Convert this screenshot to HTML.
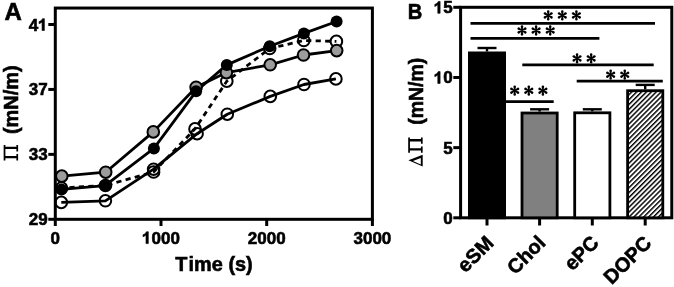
<!DOCTYPE html>
<html><head><meta charset="utf-8"><style>
html,body{margin:0;padding:0;background:#fff;width:674px;height:287px;overflow:hidden}
svg{display:block;filter:grayscale(1)}
</style></head><body><svg width="674" height="287" viewBox="0 0 674 287"><rect x="55.3" y="8.05" width="317.09999999999997" height="211.25" fill="none" stroke="#000" stroke-width="3.0"/><line x1="48.3" y1="219.30" x2="55.3" y2="219.30" stroke="#000" stroke-width="3.0"/><text x="28.69" y="225.30" style="font-family:'Liberation Sans',sans-serif;font-weight:bold;stroke:#000;stroke-width:0.6px;font-size:17px">2</text><text x="38.15" y="225.30" style="font-family:'Liberation Sans',sans-serif;font-weight:bold;stroke:#000;stroke-width:0.6px;font-size:17px">9</text><line x1="48.3" y1="154.37" x2="55.3" y2="154.37" stroke="#000" stroke-width="3.0"/><text x="28.69" y="160.37" style="font-family:'Liberation Sans',sans-serif;font-weight:bold;stroke:#000;stroke-width:0.6px;font-size:17px">3</text><text x="38.15" y="160.37" style="font-family:'Liberation Sans',sans-serif;font-weight:bold;stroke:#000;stroke-width:0.6px;font-size:17px">3</text><line x1="48.3" y1="89.43" x2="55.3" y2="89.43" stroke="#000" stroke-width="3.0"/><text x="28.69" y="95.43" style="font-family:'Liberation Sans',sans-serif;font-weight:bold;stroke:#000;stroke-width:0.6px;font-size:17px">3</text><text x="38.15" y="95.43" style="font-family:'Liberation Sans',sans-serif;font-weight:bold;stroke:#000;stroke-width:0.6px;font-size:17px">7</text><line x1="48.3" y1="24.50" x2="55.3" y2="24.50" stroke="#000" stroke-width="3.0"/><text x="28.69" y="30.50" style="font-family:'Liberation Sans',sans-serif;font-weight:bold;stroke:#000;stroke-width:0.6px;font-size:17px">4</text><path transform="translate(38.15,30.50) scale(0.00830,-0.00830)" d="M750,0H470V1030Q317,887 110,818V1070Q220,1106 350,1200Q480,1300 528,1430H750Z" fill="#000" stroke="#000" stroke-width="72.3" stroke-linejoin="round"/><line x1="55.30" y1="219.3" x2="55.30" y2="226" stroke="#000" stroke-width="3.0"/><text x="50.57" y="243.60" style="font-family:'Liberation Sans',sans-serif;font-weight:bold;stroke:#000;stroke-width:0.6px;font-size:17px">0</text><line x1="161.00" y1="219.3" x2="161.00" y2="226" stroke="#000" stroke-width="3.0"/><path transform="translate(142.09,243.60) scale(0.00830,-0.00830)" d="M750,0H470V1030Q317,887 110,818V1070Q220,1106 350,1200Q480,1300 528,1430H750Z" fill="#000" stroke="#000" stroke-width="72.3" stroke-linejoin="round"/><text x="151.55" y="243.60" style="font-family:'Liberation Sans',sans-serif;font-weight:bold;stroke:#000;stroke-width:0.6px;font-size:17px">0</text><text x="161.00" y="243.60" style="font-family:'Liberation Sans',sans-serif;font-weight:bold;stroke:#000;stroke-width:0.6px;font-size:17px">0</text><text x="170.45" y="243.60" style="font-family:'Liberation Sans',sans-serif;font-weight:bold;stroke:#000;stroke-width:0.6px;font-size:17px">0</text><line x1="266.70" y1="219.3" x2="266.70" y2="226" stroke="#000" stroke-width="3.0"/><text x="247.79" y="243.60" style="font-family:'Liberation Sans',sans-serif;font-weight:bold;stroke:#000;stroke-width:0.6px;font-size:17px">2</text><text x="257.25" y="243.60" style="font-family:'Liberation Sans',sans-serif;font-weight:bold;stroke:#000;stroke-width:0.6px;font-size:17px">0</text><text x="266.70" y="243.60" style="font-family:'Liberation Sans',sans-serif;font-weight:bold;stroke:#000;stroke-width:0.6px;font-size:17px">0</text><text x="276.15" y="243.60" style="font-family:'Liberation Sans',sans-serif;font-weight:bold;stroke:#000;stroke-width:0.6px;font-size:17px">0</text><line x1="372.40" y1="219.3" x2="372.40" y2="226" stroke="#000" stroke-width="3.0"/><text x="353.49" y="243.60" style="font-family:'Liberation Sans',sans-serif;font-weight:bold;stroke:#000;stroke-width:0.6px;font-size:17px">3</text><text x="362.95" y="243.60" style="font-family:'Liberation Sans',sans-serif;font-weight:bold;stroke:#000;stroke-width:0.6px;font-size:17px">0</text><text x="372.40" y="243.60" style="font-family:'Liberation Sans',sans-serif;font-weight:bold;stroke:#000;stroke-width:0.6px;font-size:17px">0</text><text x="381.85" y="243.60" style="font-family:'Liberation Sans',sans-serif;font-weight:bold;stroke:#000;stroke-width:0.6px;font-size:17px">0</text><text x="175.2" y="271.3" style="font-family:'Liberation Sans',sans-serif;font-weight:bold;stroke:#000;stroke-width:0.6px;font-size:19.9px">T</text><text x="188.6" y="271.3" style="font-family:'Liberation Sans',sans-serif;font-weight:bold;stroke:#000;stroke-width:0.6px;font-size:19.9px">ime (s)</text><text x="4.6" y="19.6" style="font-family:'Liberation Sans',sans-serif;font-weight:bold;stroke:#000;stroke-width:0.6px;font-size:24px">A</text><text transform="translate(17.5,134) rotate(-90)" style="font-family:'Liberation Sans',sans-serif;font-weight:bold;stroke:#000;stroke-width:0.6px;font-size:19.9px">(mN/m)</text><path d="M3.65,145.10h1.75v15.3h-1.75zM5.30,146.80h11.3v2.3h-11.3zM5.30,155.90h11.3v2.4h-11.3zM16.40,145.10h1.7v6.3h-1.7zM16.40,154.10h1.7v6.3h-1.7z" fill="#000"/><polyline points="61.3,202.4 105.4,200.8 153.6,169.2 197.1,133.7 227.3,114.2 270.3,96.4 304.0,84.5 335.9,78.9" fill="none" stroke="#000" stroke-width="2.8" stroke-linejoin="round" /><polyline points="61.8,176.1 105.7,172.2 153.3,131.9 196.1,87.2 226.4,72.6 270.2,64.8 303.5,55.0 336.7,50.6" fill="none" stroke="#000" stroke-width="2.8" stroke-linejoin="round" /><polyline points="61.5,189.4 105.0,185.6 153.9,148.4 196.1,91.3 226.8,64.9 269.7,46.2 303.9,33.4 336.6,21.5" fill="none" stroke="#000" stroke-width="2.8" stroke-linejoin="round" /><polyline points="61.5,188.0 105.5,185.5 153.6,172.0 195.0,128.9 226.8,81.2 269.7,48.5 303.8,40.5 336.4,41.4" fill="none" stroke="#000" stroke-width="2.8" stroke-linejoin="round" stroke-dasharray="5.2 4.3" stroke-dashoffset="1.57" stroke-linecap="butt"/><circle cx="61.3" cy="202.4" r="5.8" fill="none" stroke="#000" stroke-width="2.0"/><circle cx="105.4" cy="200.8" r="5.8" fill="none" stroke="#000" stroke-width="2.0"/><circle cx="153.6" cy="169.2" r="5.8" fill="none" stroke="#000" stroke-width="2.0"/><circle cx="197.1" cy="133.7" r="5.8" fill="none" stroke="#000" stroke-width="2.0"/><circle cx="227.3" cy="114.2" r="5.8" fill="none" stroke="#000" stroke-width="2.0"/><circle cx="270.3" cy="96.4" r="5.8" fill="none" stroke="#000" stroke-width="2.0"/><circle cx="304.0" cy="84.5" r="5.8" fill="none" stroke="#000" stroke-width="2.0"/><circle cx="335.9" cy="78.9" r="5.8" fill="none" stroke="#000" stroke-width="2.0"/><circle cx="61.5" cy="188.0" r="5.8" fill="none" stroke="#000" stroke-width="2.0"/><circle cx="105.5" cy="185.5" r="5.8" fill="none" stroke="#000" stroke-width="2.0"/><circle cx="153.6" cy="172.0" r="5.8" fill="none" stroke="#000" stroke-width="2.0"/><circle cx="195.0" cy="128.9" r="5.8" fill="none" stroke="#000" stroke-width="2.0"/><circle cx="226.8" cy="81.2" r="5.8" fill="none" stroke="#000" stroke-width="2.0"/><circle cx="269.7" cy="48.5" r="5.8" fill="none" stroke="#000" stroke-width="2.0"/><circle cx="303.8" cy="40.5" r="5.8" fill="none" stroke="#000" stroke-width="2.0"/><circle cx="336.4" cy="41.4" r="5.8" fill="none" stroke="#000" stroke-width="2.0"/><circle cx="61.8" cy="176.1" r="5.8" fill="#9c9c9c" stroke="#000" stroke-width="2.0"/><circle cx="105.7" cy="172.2" r="5.8" fill="#9c9c9c" stroke="#000" stroke-width="2.0"/><circle cx="153.3" cy="131.9" r="5.8" fill="#9c9c9c" stroke="#000" stroke-width="2.0"/><circle cx="196.1" cy="87.2" r="5.8" fill="#9c9c9c" stroke="#000" stroke-width="2.0"/><circle cx="226.4" cy="72.6" r="5.8" fill="#9c9c9c" stroke="#000" stroke-width="2.0"/><circle cx="270.2" cy="64.8" r="5.8" fill="#9c9c9c" stroke="#000" stroke-width="2.0"/><circle cx="303.5" cy="55.0" r="5.8" fill="#9c9c9c" stroke="#000" stroke-width="2.0"/><circle cx="336.7" cy="50.6" r="5.8" fill="#9c9c9c" stroke="#000" stroke-width="2.0"/><circle cx="61.5" cy="189.4" r="6.0" fill="#000"/><circle cx="105.0" cy="185.6" r="6.0" fill="#000"/><circle cx="153.9" cy="148.4" r="6.0" fill="#000"/><circle cx="196.1" cy="91.3" r="6.0" fill="#000"/><circle cx="226.8" cy="64.9" r="6.0" fill="#000"/><circle cx="269.7" cy="46.2" r="6.0" fill="#000"/><circle cx="303.9" cy="33.4" r="6.0" fill="#000"/><circle cx="336.6" cy="21.5" r="6.0" fill="#000"/><rect x="460.6" y="7.3" width="211.19999999999993" height="210.5" fill="none" stroke="#000" stroke-width="3.0"/><line x1="453.3" y1="217.80" x2="460.6" y2="217.80" stroke="#000" stroke-width="3.0"/><text x="443.35" y="223.80" style="font-family:'Liberation Sans',sans-serif;font-weight:bold;stroke:#000;stroke-width:0.6px;font-size:17px">0</text><line x1="453.3" y1="147.63" x2="460.6" y2="147.63" stroke="#000" stroke-width="3.0"/><text x="443.35" y="153.63" style="font-family:'Liberation Sans',sans-serif;font-weight:bold;stroke:#000;stroke-width:0.6px;font-size:17px">5</text><line x1="453.3" y1="77.47" x2="460.6" y2="77.47" stroke="#000" stroke-width="3.0"/><path transform="translate(433.89,83.47) scale(0.00830,-0.00830)" d="M750,0H470V1030Q317,887 110,818V1070Q220,1106 350,1200Q480,1300 528,1430H750Z" fill="#000" stroke="#000" stroke-width="72.3" stroke-linejoin="round"/><text x="443.35" y="83.47" style="font-family:'Liberation Sans',sans-serif;font-weight:bold;stroke:#000;stroke-width:0.6px;font-size:17px">0</text><line x1="453.3" y1="7.30" x2="460.6" y2="7.30" stroke="#000" stroke-width="3.0"/><path transform="translate(433.89,13.30) scale(0.00830,-0.00830)" d="M750,0H470V1030Q317,887 110,818V1070Q220,1106 350,1200Q480,1300 528,1430H750Z" fill="#000" stroke="#000" stroke-width="72.3" stroke-linejoin="round"/><text x="443.35" y="13.30" style="font-family:'Liberation Sans',sans-serif;font-weight:bold;stroke:#000;stroke-width:0.6px;font-size:17px">5</text><text transform="translate(407.8,19.2) scale(0.89,1)" style="font-family:'Liberation Sans',sans-serif;font-weight:bold;stroke:#000;stroke-width:0.6px;font-size:22.6px">B</text><text transform="translate(422.9,124.8) rotate(-90)" style="font-family:'Liberation Sans',sans-serif;font-weight:bold;stroke:#000;stroke-width:0.6px;font-size:19.45px">(mN/m)</text><path d="M408.20,137.40h1.75v15.3h-1.75zM409.85,139.10h11.3v2.3h-11.3zM409.85,148.20h11.3v2.4h-11.3zM420.95,137.40h1.7v6.3h-1.7zM420.95,146.40h1.7v6.3h-1.7z" fill="#000"/><path d="M408.4,160.3L422.7,154.7L422.7,166.6ZM412.94,161.10L420.8,164.56L420.8,158.02Z" fill="#000" fill-rule="evenodd"/><defs><pattern id="hatch" patternUnits="userSpaceOnUse" x="2.35" y="0" width="3.46" height="3.46" patternTransform="rotate(45)"><rect width="3.46" height="3.46" fill="#fff"/><rect x="0" y="0" width="1.45" height="3.46" fill="#000"/></pattern></defs><line x1="487.0" y1="48.0" x2="487.0" y2="51.5" stroke="#000" stroke-width="2.4"/><line x1="477.5" y1="48.0" x2="496.5" y2="48.0" stroke="#000" stroke-width="2.4"/><rect x="469.4" y="52.9" width="35.2" height="164.9" fill="#000" stroke="#000" stroke-width="2.8"/><line x1="487.0" y1="217.8" x2="487.0" y2="225.5" stroke="#000" stroke-width="3.0"/><line x1="539.6" y1="109.3" x2="539.6" y2="111.6" stroke="#000" stroke-width="2.4"/><line x1="530.1" y1="109.3" x2="549.1" y2="109.3" stroke="#000" stroke-width="2.4"/><rect x="522.0" y="113.0" width="35.2" height="104.80000000000001" fill="#808080" stroke="#000" stroke-width="2.8"/><line x1="539.6" y1="217.8" x2="539.6" y2="225.5" stroke="#000" stroke-width="3.0"/><line x1="592.3" y1="109.3" x2="592.3" y2="111.4" stroke="#000" stroke-width="2.4"/><line x1="582.8" y1="109.3" x2="601.8" y2="109.3" stroke="#000" stroke-width="2.4"/><rect x="574.6999999999999" y="112.80000000000001" width="35.2" height="105.0" fill="#fff" stroke="#000" stroke-width="2.8"/><line x1="592.3" y1="217.8" x2="592.3" y2="225.5" stroke="#000" stroke-width="3.0"/><line x1="645.2" y1="84.9" x2="645.2" y2="89.3" stroke="#000" stroke-width="2.4"/><line x1="635.7" y1="84.9" x2="654.7" y2="84.9" stroke="#000" stroke-width="2.4"/><rect x="627.6" y="90.7" width="35.2" height="127.1" fill="url(#hatch)" stroke="#000" stroke-width="2.8"/><line x1="645.2" y1="217.8" x2="645.2" y2="225.5" stroke="#000" stroke-width="3.0"/><text transform="translate(494.7,244.3) rotate(-45)" text-anchor="end" style="font-family:'Liberation Sans',sans-serif;font-weight:bold;stroke:#000;stroke-width:0.6px;font-size:20px">eSM</text><text transform="translate(546.6,244.0) rotate(-45)" text-anchor="end" style="font-family:'Liberation Sans',sans-serif;font-weight:bold;stroke:#000;stroke-width:0.6px;font-size:20px">Chol</text><text transform="translate(600.0,244.0) rotate(-45)" text-anchor="end" style="font-family:'Liberation Sans',sans-serif;font-weight:bold;stroke:#000;stroke-width:0.6px;font-size:20px">ePC</text><text transform="translate(652.7,244.3) rotate(-45)" text-anchor="end" style="font-family:'Liberation Sans',sans-serif;font-weight:bold;stroke:#000;stroke-width:0.6px;font-size:20px">DOPC</text><line x1="470.5" y1="23.3" x2="655.0" y2="23.3" stroke="#000" stroke-width="2.8"/><path d="M548.65,15.40L549.50,11.55A1.3,1.3 0 0 0 546.90,11.55L547.75,15.40ZM548.42,15.79L552.18,14.60A1.3,1.3 0 0 0 550.88,12.35L547.97,15.01ZM547.97,15.79L550.88,18.45A1.3,1.3 0 0 0 552.18,16.20L548.42,15.01ZM547.75,15.40L546.90,19.25A1.3,1.3 0 0 0 549.50,19.25L548.65,15.40ZM548.42,15.01L545.52,12.35A1.3,1.3 0 0 0 544.22,14.60L547.97,15.79ZM547.97,15.01L544.22,16.20A1.3,1.3 0 0 0 545.52,18.45L548.42,15.79Z" fill="#000"/><path d="M562.75,15.40L563.60,11.55A1.3,1.3 0 0 0 561.00,11.55L561.85,15.40ZM562.52,15.79L566.28,14.60A1.3,1.3 0 0 0 564.98,12.35L562.07,15.01ZM562.07,15.79L564.98,18.45A1.3,1.3 0 0 0 566.28,16.20L562.52,15.01ZM561.85,15.40L561.00,19.25A1.3,1.3 0 0 0 563.60,19.25L562.75,15.40ZM562.52,15.01L559.62,12.35A1.3,1.3 0 0 0 558.32,14.60L562.07,15.79ZM562.07,15.01L558.32,16.20A1.3,1.3 0 0 0 559.62,18.45L562.52,15.79Z" fill="#000"/><path d="M576.85,15.40L577.70,11.55A1.3,1.3 0 0 0 575.10,11.55L575.95,15.40ZM576.62,15.79L580.38,14.60A1.3,1.3 0 0 0 579.08,12.35L576.17,15.01ZM576.17,15.79L579.08,18.45A1.3,1.3 0 0 0 580.38,16.20L576.62,15.01ZM575.95,15.40L575.10,19.25A1.3,1.3 0 0 0 577.70,19.25L576.85,15.40ZM576.62,15.01L573.72,12.35A1.3,1.3 0 0 0 572.42,14.60L576.17,15.79ZM576.17,15.01L572.42,16.20A1.3,1.3 0 0 0 573.72,18.45L576.62,15.79Z" fill="#000"/><line x1="470.5" y1="38.3" x2="599.4" y2="38.3" stroke="#000" stroke-width="2.8"/><path d="M522.45,30.50L523.30,26.65A1.3,1.3 0 0 0 520.70,26.65L521.55,30.50ZM522.23,30.89L525.98,29.70A1.3,1.3 0 0 0 524.68,27.45L521.77,30.11ZM521.77,30.89L524.68,33.55A1.3,1.3 0 0 0 525.98,31.30L522.23,30.11ZM521.55,30.50L520.70,34.35A1.3,1.3 0 0 0 523.30,34.35L522.45,30.50ZM522.23,30.11L519.32,27.45A1.3,1.3 0 0 0 518.02,29.70L521.77,30.89ZM521.77,30.11L518.02,31.30A1.3,1.3 0 0 0 519.32,33.55L522.23,30.89Z" fill="#000"/><path d="M536.55,30.50L537.40,26.65A1.3,1.3 0 0 0 534.80,26.65L535.65,30.50ZM536.33,30.89L540.08,29.70A1.3,1.3 0 0 0 538.78,27.45L535.88,30.11ZM535.88,30.89L538.78,33.55A1.3,1.3 0 0 0 540.08,31.30L536.33,30.11ZM535.65,30.50L534.80,34.35A1.3,1.3 0 0 0 537.40,34.35L536.55,30.50ZM536.33,30.11L533.42,27.45A1.3,1.3 0 0 0 532.12,29.70L535.88,30.89ZM535.88,30.11L532.12,31.30A1.3,1.3 0 0 0 533.42,33.55L536.33,30.89Z" fill="#000"/><path d="M550.65,30.50L551.50,26.65A1.3,1.3 0 0 0 548.90,26.65L549.75,30.50ZM550.43,30.89L554.18,29.70A1.3,1.3 0 0 0 552.88,27.45L549.98,30.11ZM549.98,30.89L552.88,33.55A1.3,1.3 0 0 0 554.18,31.30L550.43,30.11ZM549.75,30.50L548.90,34.35A1.3,1.3 0 0 0 551.50,34.35L550.65,30.50ZM550.43,30.11L547.52,27.45A1.3,1.3 0 0 0 546.22,29.70L549.98,30.89ZM549.98,30.11L546.22,31.30A1.3,1.3 0 0 0 547.52,33.55L550.43,30.89Z" fill="#000"/><line x1="522.3" y1="64.9" x2="653.7" y2="64.9" stroke="#000" stroke-width="2.8"/><path d="M577.50,58.40L578.35,54.55A1.3,1.3 0 0 0 575.75,54.55L576.60,58.40ZM577.28,58.79L581.03,57.60A1.3,1.3 0 0 0 579.73,55.35L576.83,58.01ZM576.83,58.79L579.73,61.45A1.3,1.3 0 0 0 581.03,59.20L577.28,58.01ZM576.60,58.40L575.75,62.25A1.3,1.3 0 0 0 578.35,62.25L577.50,58.40ZM577.28,58.01L574.37,55.35A1.3,1.3 0 0 0 573.07,57.60L576.83,58.79ZM576.83,58.01L573.07,59.20A1.3,1.3 0 0 0 574.37,61.45L577.28,58.79Z" fill="#000"/><path d="M591.60,58.40L592.45,54.55A1.3,1.3 0 0 0 589.85,54.55L590.70,58.40ZM591.38,58.79L595.13,57.60A1.3,1.3 0 0 0 593.83,55.35L590.92,58.01ZM590.92,58.79L593.83,61.45A1.3,1.3 0 0 0 595.13,59.20L591.38,58.01ZM590.70,58.40L589.85,62.25A1.3,1.3 0 0 0 592.45,62.25L591.60,58.40ZM591.38,58.01L588.47,55.35A1.3,1.3 0 0 0 587.17,57.60L590.92,58.79ZM590.92,58.01L587.17,59.20A1.3,1.3 0 0 0 588.47,61.45L591.38,58.79Z" fill="#000"/><line x1="576.7" y1="81.1" x2="662.8" y2="81.1" stroke="#000" stroke-width="2.8"/><path d="M611.10,74.70L611.95,70.85A1.3,1.3 0 0 0 609.35,70.85L610.20,74.70ZM610.88,75.09L614.63,73.90A1.3,1.3 0 0 0 613.33,71.65L610.43,74.31ZM610.43,75.09L613.33,77.75A1.3,1.3 0 0 0 614.63,75.50L610.88,74.31ZM610.20,74.70L609.35,78.55A1.3,1.3 0 0 0 611.95,78.55L611.10,74.70ZM610.88,74.31L607.97,71.65A1.3,1.3 0 0 0 606.67,73.90L610.43,75.09ZM610.43,74.31L606.67,75.50A1.3,1.3 0 0 0 607.97,77.75L610.88,75.09Z" fill="#000"/><path d="M625.20,74.70L626.05,70.85A1.3,1.3 0 0 0 623.45,70.85L624.30,74.70ZM624.98,75.09L628.73,73.90A1.3,1.3 0 0 0 627.43,71.65L624.52,74.31ZM624.52,75.09L627.43,77.75A1.3,1.3 0 0 0 628.73,75.50L624.98,74.31ZM624.30,74.70L623.45,78.55A1.3,1.3 0 0 0 626.05,78.55L625.20,74.70ZM624.98,74.31L622.07,71.65A1.3,1.3 0 0 0 620.77,73.90L624.52,75.09ZM624.52,74.31L620.77,75.50A1.3,1.3 0 0 0 622.07,77.75L624.98,75.09Z" fill="#000"/><line x1="505.5" y1="101.6" x2="553.7" y2="101.6" stroke="#000" stroke-width="2.8"/><path d="M515.15,90.70L516.00,86.85A1.3,1.3 0 0 0 513.40,86.85L514.25,90.70ZM514.92,91.09L518.68,89.90A1.3,1.3 0 0 0 517.38,87.65L514.47,90.31ZM514.47,91.09L517.38,93.75A1.3,1.3 0 0 0 518.68,91.50L514.92,90.31ZM514.25,90.70L513.40,94.55A1.3,1.3 0 0 0 516.00,94.55L515.15,90.70ZM514.92,90.31L512.02,87.65A1.3,1.3 0 0 0 510.72,89.90L514.47,91.09ZM514.47,90.31L510.72,91.50A1.3,1.3 0 0 0 512.02,93.75L514.92,91.09Z" fill="#000"/><path d="M529.25,90.70L530.10,86.85A1.3,1.3 0 0 0 527.50,86.85L528.35,90.70ZM529.02,91.09L532.78,89.90A1.3,1.3 0 0 0 531.48,87.65L528.57,90.31ZM528.57,91.09L531.48,93.75A1.3,1.3 0 0 0 532.78,91.50L529.02,90.31ZM528.35,90.70L527.50,94.55A1.3,1.3 0 0 0 530.10,94.55L529.25,90.70ZM529.02,90.31L526.12,87.65A1.3,1.3 0 0 0 524.82,89.90L528.57,91.09ZM528.57,90.31L524.82,91.50A1.3,1.3 0 0 0 526.12,93.75L529.02,91.09Z" fill="#000"/><path d="M543.35,90.70L544.20,86.85A1.3,1.3 0 0 0 541.60,86.85L542.45,90.70ZM543.12,91.09L546.88,89.90A1.3,1.3 0 0 0 545.58,87.65L542.67,90.31ZM542.67,91.09L545.58,93.75A1.3,1.3 0 0 0 546.88,91.50L543.12,90.31ZM542.45,90.70L541.60,94.55A1.3,1.3 0 0 0 544.20,94.55L543.35,90.70ZM543.12,90.31L540.22,87.65A1.3,1.3 0 0 0 538.92,89.90L542.67,91.09ZM542.67,90.31L538.92,91.50A1.3,1.3 0 0 0 540.22,93.75L543.12,91.09Z" fill="#000"/></svg></body></html>
